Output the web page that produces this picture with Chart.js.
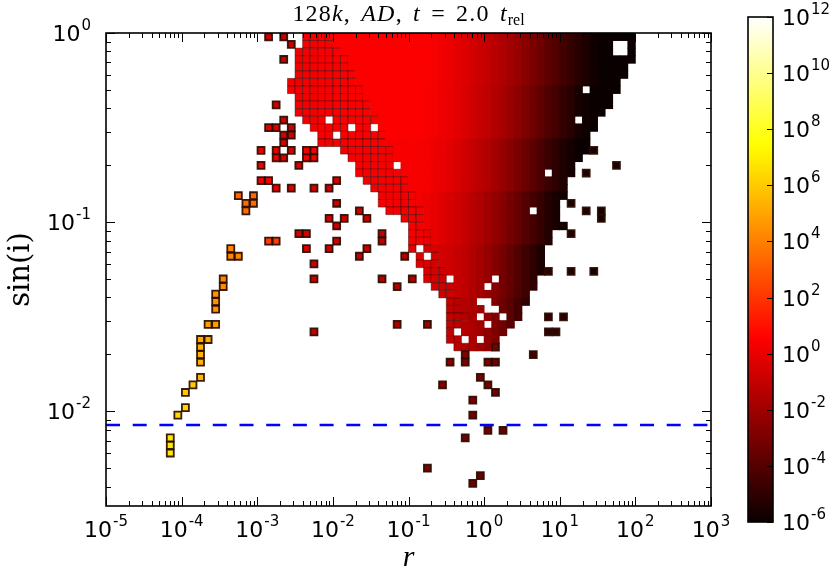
<!DOCTYPE html>
<html>
<head>
<meta charset="utf-8">
<script src="https://cdn.jsdelivr.net/npm/chart.js@4.4.1/dist/chart.umd.min.js"></script>
<style>
  html,body{margin:0;padding:0;background:#fff;}
  #wrap{position:relative;width:830px;height:576px;overflow:hidden;background:#fff;}
  #main{position:absolute;left:0;top:0;}
  #cbar{position:absolute;left:700px;top:0;}
  #title{position:absolute;left:0;top:1px;width:817px;text-align:center;font-family:'Liberation Serif',serif;font-size:24px;line-height:1;white-space:pre;color:#000;letter-spacing:1.2px;word-spacing:3px;}
  #title sub{font-size:16px;vertical-align:-4px;line-height:0;letter-spacing:0;}
</style>
</head>
<body>
<div id="wrap">
  <canvas id="main" width="830" height="576"></canvas>
  <canvas id="cbar" width="130" height="576"></canvas>
  <div id="title">128<i>k</i>, <i>AD</i>, <i>t</i> = 2.0 <i>t</i><sub>rel</sub></div>
</div>
<script>
// ---------------- data ----------------
const xTicks = [1e-5, 1e-4, 1e-3, 1e-2, 1e-1, 1e0, 1e1, 1e2, 1e3];
const yTicks = [1e-2, 1e-1, 1e0];
const cbTicks = [1e-6, 1e-4, 1e-2, 1e0, 1e2, 1e4, 1e6, 1e8, 1e10, 1e12];
const rMin = 1e-5, rMax = 1e3;
const sinMin = Math.pow(10, -2.5), sinMax = 1;
const cbLogMin = -6, cbLogMax = 12;
const inclinationLine = 0.00848;   // dashed blue line, sin(i)
const binDexR = 0.1, binDexSin = 0.04;

// dense region, one entry per sin(i) row (log10 of row centre)
const rowLogSin = [-0.02,-0.06,-0.10,-0.14,-0.18,-0.22,-0.26,-0.30,-0.34,-0.38,-0.42,-0.46,-0.50,-0.54,
  -0.58,-0.62,-0.66,-0.70,-0.74,-0.78,-0.82,-0.86,-0.90,-0.94,-0.98,-1.02,-1.06,-1.10,
  -1.14,-1.18,-1.22,-1.26,-1.30,-1.34,-1.38,-1.42,-1.46,-1.50,-1.54,-1.58,-1.62,-1.66];
// log10 r where the filled cells of each row begin
const denseFrom = [-2.4,-2.4,-2.5,-2.5,-2.5,-2.5,-2.6,-2.6,-2.5,-2.5,-2.5,-2.4,-2.3,-2.2,
  -2.2,-1.9,-1.8,-1.7,-1.7,-1.6,-1.5,-1.4,-1.4,-1.3,-1.1,-1.0,-1.0,-1.0,
  -1.0,-0.9,-0.9,-0.8,-0.8,-0.7,-0.6,-0.5,-0.5,-0.5,-0.5,-0.5,-0.5,-0.4];
// log10 r where the speckled fringe turns into the solid core
const denseSolid = [-2.0,-2.0,-1.9,-1.8,-1.8,-1.7,-1.7,-1.6,-1.6,-1.5,-1.5,-1.4,-1.4,-1.3,
  -1.3,-1.2,-1.2,-1.1,-1.1,-1.0,-1.0,-0.9,-0.9,-0.8,-0.8,-0.8,-0.7,-0.7,
  -0.7,-0.6,-0.6,-0.5,-0.5,-0.4,-0.4,-0.3,-0.3,-0.2,-0.3,-0.3,-0.3,-0.2];
// log10 r where the filled cells of each row end
const denseTo = [2.0,2.0,2.0,2.0,1.9,1.9,1.8,1.8,1.7,1.7,1.6,1.5,1.5,1.4,
  1.4,1.4,1.3,1.2,1.2,1.1,1.1,1.1,1.0,1.0,1.0,1.1,0.9,0.9,
  0.8,0.8,0.8,0.8,0.7,0.7,0.6,0.6,0.5,0.5,0.4,0.3,0.2,0.1];
// log10 of the colour value per r-column (first column centred at log r = -2.55),
// one array per band of seven rows, top to bottom
const levelLogR0 = -2.55;
const bandSize = 7;
const levelBandA = [0.2,0.2,0.3,0.3,0.4,0.4, 0.5,0.5,0.5,0.5,0.5,0.5,0.5,0.5,0.5,0.5,0.5,0.5,
  0.45,0.35,0.2,0.05,-0.15,-0.35,-0.6,-0.85,-1.05,-1.3,-1.6,-1.9,-2.25,-2.6,-3.0,-3.35,-3.75,-4.1,
  -4.5,-4.85,-5.2,-5.5,-5.8,-6,-6,-6,-6,-6];
const levelBandB = [0.3,0.3,0.3,0.3,0.4,0.4, 0.5,0.5,0.5,0.5,0.5,0.5,0.5,0.5,0.5,0.5,0.5,0.5,
  0.4,0.3,0.15,0.0,-0.2,-0.45,-0.7,-0.95,-1.2,-1.5,-1.8,-2.15,-2.5,-2.9,-3.3,-3.7,-4.1,-4.5,
  -4.9,-5.25,-5.6,-5.85,-6,-6,-6,-6,-6,-6];
const levelBandC = [0.3,0.3,0.3,0.3,0.3,0.3, 0.4,0.4,0.4,0.4,0.4,0.4,0.4,0.4,0.4,0.4,0.4,0.35,
  0.3,0.15,0.0,-0.2,-0.45,-0.7,-0.95,-1.25,-1.55,-1.9,-2.25,-2.6,-3.0,-3.4,-3.85,-4.3,-4.7,-5.1,
  -5.45,-5.75,-6,-6,-6,-6,-6,-6,-6,-6];
const levelBandD = [0.3,0.3,0.3,0.3,0.3,0.3,0.3,0.3,0.3,0.3,0.3,0.3,0.3,0.3,0.3,0.3,
  0.35,0.25,0.1,-0.05,-0.25,-0.5,-0.75,-1.0,-1.3,-1.6,-1.95,-2.3,-2.7,-3.1,-3.55,-4.0,-4.45,-4.9,
  -5.3,-5.6,-5.85,-6,-6,-6,-6,-6,-6,-6,-6,-6];
const levelBandE = [-0.2,-0.2,-0.2,-0.2,-0.2,-0.2,-0.2,-0.2,-0.2,-0.2,-0.2,-0.2,-0.2,-0.2,-0.2,-0.2,
  -0.2,-0.3,-0.4,-0.5,-0.6,-0.75,-0.95,-1.2,-1.5,-1.85,-2.25,-2.7,-3.15,-3.6,-4.1,-4.6,-5.05,-5.5,
  -5.8,-6,-6,-6,-6,-6,-6,-6,-6,-6,-6,-6];
const levelBandF = [-0.6,-0.6,-0.6,-0.6,-0.6,-0.6,-0.6,-0.6,-0.6,-0.6,-0.6,-0.6,-0.6,-0.6,-0.6,-0.6,
  -0.6,-0.7,-0.8,-0.9,-1.0,-1.1,-1.25,-1.45,-1.7,-2.0,-2.4,-2.85,-3.35,-3.9,-4.45,-5.0,-5.5,-5.85,
  -6,-6,-6,-6,-6,-6,-6,-6,-6,-6,-6,-6];
const levelBands = [levelBandA, levelBandB, levelBandC, levelBandD, levelBandE, levelBandF];
// empty cells inside the dense region [log r, log sin i]
const holes = [[-1.75,-0.50],[-1.45,-0.50],[-1.15,-0.70],[1.75,-0.06],[1.85,-0.06],[1.75,-0.10],[1.85,-0.10],
  [1.35,-0.30],[1.25,-0.46],[0.85,-0.74],[0.65,-0.94],[-0.85,-1.14],[-0.75,-1.18],[-0.45,-1.30],[0.15,-1.30],
  [0.05,-1.34],[-0.05,-1.42],[0.05,-1.42],[0.05,-1.46],[0.15,-1.46],[-0.05,-1.50],[0.25,-1.50],[0.05,-1.54],
  [-0.35,-1.58],[-0.25,-1.62],[-0.05,-1.62],[-2.05,-0.46],[-1.95,-0.54]];
// isolated cells [log r, log sin i, log value]
const sparseCells = [
  [-3.05,-0.86,3.4],[-3.25,-0.86,3.4],[-3.15,-0.90,3.5],[-3.05,-0.90,3.5],[-3.15,-0.94,3.5],
  [-3.35,-1.14,4.2],[-3.35,-1.18,4.2],[-3.25,-1.18,4.2],[-3.45,-1.30,4.2],[-3.45,-1.34,4.3],
  [-3.55,-1.38,4.5],[-3.55,-1.42,4.5],[-3.55,-1.46,4.6],[-3.65,-1.54,4.8],[-3.55,-1.54,4.8],
  [-3.75,-1.62,5.2],[-3.65,-1.62,5.2],[-3.75,-1.66,5.3],[-3.75,-1.70,5.4],[-3.75,-1.74,5.4],
  [-3.75,-1.82,5.5],[-3.85,-1.86,6.0],[-3.95,-1.90,6.0],[-3.95,-1.98,6.3],[-4.05,-2.02,6.4],
  [-4.15,-2.14,6.8],[-4.15,-2.18,6.9],[-4.15,-2.22,6.9],
  [-2.85,-0.02,-0.9],[-2.65,-0.02,-0.9],[-2.55,-0.06,-0.9],[-2.65,-0.14,-0.9],[-2.75,-0.38,-0.7],
  [-2.65,-0.46,-0.7],[-2.85,-0.50,-0.3],[-2.75,-0.50,-0.3],[-2.55,-0.50,-0.7],[-2.55,-0.54,-0.7],
  [-2.65,-0.54,-0.5],[-2.65,-0.58,-0.5],[-2.75,-0.62,-0.3],[-2.55,-0.62,-0.5],[-2.95,-0.62,0.0],
  [-2.75,-0.66,0.0],[-2.65,-0.66,-0.5],[-2.45,-0.70,-0.5],[-2.35,-0.62,0.3],[-2.25,-0.62,0.3],
  [-2.35,-0.66,0.3],[-2.25,-0.66,0.3],[-2.95,-0.70,0.3],[-2.95,-0.78,0.3],[-2.85,-0.78,0.3],
  [-2.75,-0.82,0.0],[-2.55,-0.82,-0.3],[-2.25,-0.82,-0.5],[-2.05,-0.82,-0.8],[-1.95,-0.78,-0.8],
  [-1.95,-0.90,-0.8],[-2.05,-0.98,-0.8],[-1.85,-0.98,-0.8],[-1.65,-0.94,-0.8],[-1.55,-0.98,-1.0],
  [-2.45,-1.06,-0.6],[-2.35,-1.06,-0.6],[-2.85,-1.10,2.2],[-2.75,-1.10,2.2],[-1.95,-1.02,-0.9],
  [-1.95,-1.10,-0.9],[-2.35,-1.14,-0.6],[-2.05,-1.14,-0.9],[-2.25,-1.22,-0.8],[-1.55,-1.14,-1.1],
  [-1.65,-1.18,-1.1],[-1.35,-1.06,-1.1],[-1.35,-1.10,-1.1],[-1.05,-1.18,-1.3],[-1.35,-1.30,-1.4],
  [-1.15,-1.34,-1.5],[-0.95,-1.30,-1.5],[-2.25,-1.30,-0.8],[-2.25,-1.58,-1.0],[-1.15,-1.54,-1.7],
  [-0.75,-1.54,-2.0],
  [1.45,-0.62,-5.6],[1.75,-0.70,-5.6],[1.35,-0.74,-5.4],[1.15,-0.90,-5.5],[1.35,-0.94,-5.4],
  [1.55,-0.94,-5.6],[1.55,-0.98,-5.6],[1.15,-1.06,-5.4],[0.85,-1.26,-5.0],[1.15,-1.26,-5.3],
  [1.45,-1.26,-5.6],[0.85,-1.50,-4.8],[1.05,-1.50,-5.0],[0.85,-1.58,-4.8],[0.95,-1.58,-4.9],
  [0.65,-1.70,-4.5],
  [-0.45,-1.74,-2.6],[-0.25,-1.70,-2.8],[-0.25,-1.74,-2.8],[0.05,-1.74,-3.0],[0.15,-1.74,-3.2],
  [0.15,-1.66,-3.0],[-0.55,-1.86,-2.8],[-0.05,-1.82,-3.0],[0.05,-1.86,-3.0],[0.15,-1.90,-3.2],
  [-0.15,-1.94,-3.0],[-0.15,-2.02,-3.2],[0.05,-2.10,-3.2],[0.25,-2.10,-3.4],[-0.25,-2.14,-3.1],
  [-0.75,-2.30,-2.9],[-0.05,-2.34,-3.3],[-0.15,-2.38,-3.3]
];

// ---------------- helpers ----------------
function hotRGB(L) {
  let t = (L - cbLogMin) / (cbLogMax - cbLogMin);
  t = Math.min(1, Math.max(0, t));
  const a = 0.365079, b = 0.746032;
  const r = t < a ? 0.0416 + (1 - 0.0416) * t / a : 1;
  const g = t < a ? 0 : (t < b ? (t - a) / (b - a) : 1);
  const bl = t < b ? 0 : (t - b) / (1 - b);
  return [Math.round(r * 255), Math.round(g * 255), Math.round(bl * 255)];
}
function hot(L) { const c = hotRGB(L); return 'rgb(' + c[0] + ',' + c[1] + ',' + c[2] + ')'; }
function decadeExp(v) { return String(Math.round(Math.log10(v))); }
function decadeLabel(v) { return '10^' + decadeExp(v); }

const BASE_FONT = "22px 'DejaVu Sans', sans-serif";
const EXP_FONT = "15px 'DejaVu Sans', sans-serif";
function drawDecade(ctx, v, x, yBase, align) {
  const ex = decadeExp(v);
  ctx.font = BASE_FONT;
  const w1 = ctx.measureText('10').width;
  ctx.font = EXP_FONT;
  const w2 = ctx.measureText(ex).width;
  const total = w1 + 1 + w2;
  let sx = x;
  if (align === 'center') sx = x - total / 2;
  else if (align === 'right') sx = x - total;
  ctx.textAlign = 'left';
  ctx.textBaseline = 'alphabetic';
  ctx.fillStyle = '#000';
  ctx.font = BASE_FONT;
  ctx.fillText('10', sx, yBase);
  ctx.font = EXP_FONT;
  ctx.fillText(ex, sx + w1 + 1, yBase - 11);
}

// build the dense cell table from the row arrays
const denseCells = [];
rowLogSin.forEach((ls, i) => {
  const n = Math.round((denseTo[i] - denseFrom[i]) / binDexR);
  const band = levelBands[Math.min(levelBands.length - 1, Math.floor(i / bandSize))];
  for (let k = 0; k < n; k++) {
    const lr = denseFrom[i] + binDexR * (k + 0.5);
    if (holes.some(h => Math.abs(h[0] - lr) < 0.01 && Math.abs(h[1] - ls) < 0.01)) continue;
    let ci = Math.round((lr - levelLogR0) / binDexR);
    ci = Math.max(0, Math.min(band.length - 1, ci));
    denseCells.push({x: Math.pow(10, lr), y: Math.pow(10, ls), v: band[ci], m: lr < denseSolid[i]});
  }
});
const sparsePoints = sparseCells.map(c => ({x: Math.pow(10, c[0]), y: Math.pow(10, c[1]), v: c[2]}));

function cellHalf(ctx) {
  const s = ctx.chart.scales.x;
  if (!s || !ctx.raw) return 3.8;
  const lr = Math.log10(ctx.raw.x);
  return (s.getPixelForValue(Math.pow(10, lr + binDexR / 2)) - s.getPixelForValue(Math.pow(10, lr - binDexR / 2))) / 2;
}

// ---------------- plugins ----------------
const frameTicks = {
  id: 'frameTicks',
  afterDatasetsDraw(chart) {
    const {ctx, chartArea: a, scales: {x, y}} = chart;
    ctx.save();
    ctx.strokeStyle = '#000';
    ctx.lineWidth = 1;
    ctx.beginPath();
    for (let e = -5; e <= 3; e++) {
      for (let m = 1; m <= 9; m++) {
        const v = m * Math.pow(10, e);
        if (v > rMax * 1.0001) break;
        const px = Math.round(x.getPixelForValue(v)) + 0.5;
        const len = m === 1 ? 9 : 5;
        ctx.moveTo(px, a.bottom); ctx.lineTo(px, a.bottom - len);
        ctx.moveTo(px, a.top); ctx.lineTo(px, a.top + len);
      }
    }
    for (let e = -3; e <= 0; e++) {
      for (let m = 1; m <= 9; m++) {
        const v = m * Math.pow(10, e);
        if (v < sinMin * 0.9999 || v > sinMax * 1.0001) continue;
        const py = Math.round(y.getPixelForValue(v)) + 0.5;
        const len = m === 1 ? 9 : 5;
        ctx.moveTo(a.left, py); ctx.lineTo(a.left + len, py);
        ctx.moveTo(a.right, py); ctx.lineTo(a.right - len, py);
      }
    }
    ctx.stroke();
    ctx.lineWidth = 1.6;
    ctx.strokeRect(a.left, a.top, a.right - a.left, a.bottom - a.top);
    // decade tick labels
    x.ticks.forEach(t => drawDecade(ctx, t.value, x.getPixelForValue(t.value), a.bottom + 31, 'center'));
    y.ticks.forEach(t => drawDecade(ctx, t.value, a.left - 15, y.getPixelForValue(t.value) + 8, 'right'));
    ctx.restore();
  }
};

const cbFrame = {
  id: 'cbFrame',
  afterDatasetsDraw(chart) {
    const {ctx, chartArea: a, scales: {y}} = chart;
    ctx.save();
    ctx.strokeStyle = '#000';
    ctx.lineWidth = 1;
    ctx.beginPath();
    cbTicks.forEach(v => {
      const py = Math.round(y.getPixelForValue(v)) + 0.5;
      ctx.moveTo(a.right, py); ctx.lineTo(a.right - 6, py);
    });
    ctx.stroke();
    ctx.lineWidth = 1.6;
    ctx.strokeRect(a.left, a.top, a.right - a.left, a.bottom - a.top);
    y.ticks.forEach(t => drawDecade(ctx, t.value, a.right + 9, y.getPixelForValue(t.value) + 8, 'left'));
    ctx.restore();
  }
};

// ---------------- main chart ----------------
new Chart(document.getElementById('main'), {
  type: 'scatter',
  data: {
    datasets: [
      {
        label: 'dense',
        data: denseCells,
        order: 3,
        pointStyle: 'rect',
        pointRadius: ctx => (cellHalf(ctx) + (ctx.raw && ctx.raw.m ? 0 : 0.4)) * Math.SQRT2,
        pointHoverRadius: ctx => (cellHalf(ctx) + 0.4) * Math.SQRT2,
        pointBackgroundColor: ctx => ctx.raw ? hot(ctx.raw.v) : '#000',
        pointBorderColor: 'rgba(45,0,0,0.45)',
        pointBorderWidth: ctx => (ctx.raw && ctx.raw.m) ? 1 : 0
      },
      {
        label: 'sparse',
        data: sparsePoints,
        order: 2,
        pointStyle: 'rect',
        pointRadius: ctx => (cellHalf(ctx) - 0.3) * Math.SQRT2,
        pointHoverRadius: ctx => (cellHalf(ctx) - 0.3) * Math.SQRT2,
        pointBackgroundColor: ctx => ctx.raw ? hot(ctx.raw.v) : '#000',
        pointBorderColor: 'rgba(40,12,0,0.92)',
        pointBorderWidth: 1.8
      },
      {
        type: 'line',
        label: 'limit',
        data: [{x: rMin, y: inclinationLine}, {x: rMax, y: inclinationLine}],
        order: 1,
        borderColor: '#0000ff',
        borderWidth: 2.5,
        borderDash: [14, 12.7],
        pointRadius: 0,
        fill: false,
        showLine: true
      }
    ]
  },
  options: {
    responsive: false,
    animation: false,
    events: [],
    layout: {padding: {top: 33, right: 119, bottom: 0, left: 0}},
    plugins: {legend: {display: false}, tooltip: {enabled: false}, title: {display: false}},
    scales: {
      x: {
        type: 'logarithmic', min: rMin, max: rMax, position: 'bottom',
        afterBuildTicks: s => { s.ticks = xTicks.map(v => ({value: v, major: true})); },
        afterFit: s => { s.height = 70; },
        grid: {display: false},
        border: {display: false},
        ticks: {display: false, callback: v => decadeLabel(v), autoSkip: false},
        title: {display: true, text: 'r', font: {family: "'Liberation Serif', serif", size: 30, style: 'italic'}, color: '#000', padding: {top: 0, bottom: 0}}
      },
      y: {
        type: 'logarithmic', min: sinMin, max: sinMax, position: 'left',
        afterBuildTicks: s => { s.ticks = yTicks.map(v => ({value: v, major: true})); },
        afterFit: s => { s.width = 106; },
        grid: {display: false},
        border: {display: false},
        ticks: {display: false, callback: v => decadeLabel(v), autoSkip: false},
        title: {display: true, text: 'sin(i)', font: {family: "'DejaVu Serif', serif", size: 29}, color: '#000', padding: {top: 4, bottom: 0}}
      }
    }
  },
  plugins: [frameTicks]
});

// ---------------- colour bar ----------------
function cbGradient(ctx) {
  const chart = ctx.chart;
  const y = chart.scales.y;
  if (!chart.chartArea || !y) return '#000';
  const y0 = y.getPixelForValue(Math.pow(10, cbLogMin));
  const y1 = y.getPixelForValue(Math.pow(10, cbLogMax));
  const g = chart.ctx.createLinearGradient(0, y0, 0, y1);
  for (let L = cbLogMin; L <= cbLogMax + 1e-9; L += 0.25) {
    g.addColorStop((L - cbLogMin) / (cbLogMax - cbLogMin), hot(L));
  }
  return g;
}
new Chart(document.getElementById('cbar'), {
  type: 'bar',
  data: {
    labels: ['value'],
    datasets: [{data: [[Math.pow(10, cbLogMin), Math.pow(10, cbLogMax)]], backgroundColor: cbGradient, borderWidth: 0, barPercentage: 1, categoryPercentage: 1}]
  },
  options: {
    responsive: false,
    animation: false,
    events: [],
    layout: {padding: {left: 48, top: 17, bottom: 54, right: 0}},
    plugins: {legend: {display: false}, tooltip: {enabled: false}},
    scales: {
      x: {display: false},
      y: {
        type: 'logarithmic', position: 'right', min: Math.pow(10, cbLogMin), max: Math.pow(10, cbLogMax),
        afterBuildTicks: s => { s.ticks = cbTicks.map(v => ({value: v, major: true})); },
        afterFit: s => { s.width = 57; },
        grid: {display: false},
        border: {display: false},
        ticks: {display: false, callback: v => decadeLabel(v), autoSkip: false}
      }
    }
  },
  plugins: [cbFrame]
});
</script>
</body>
</html>
